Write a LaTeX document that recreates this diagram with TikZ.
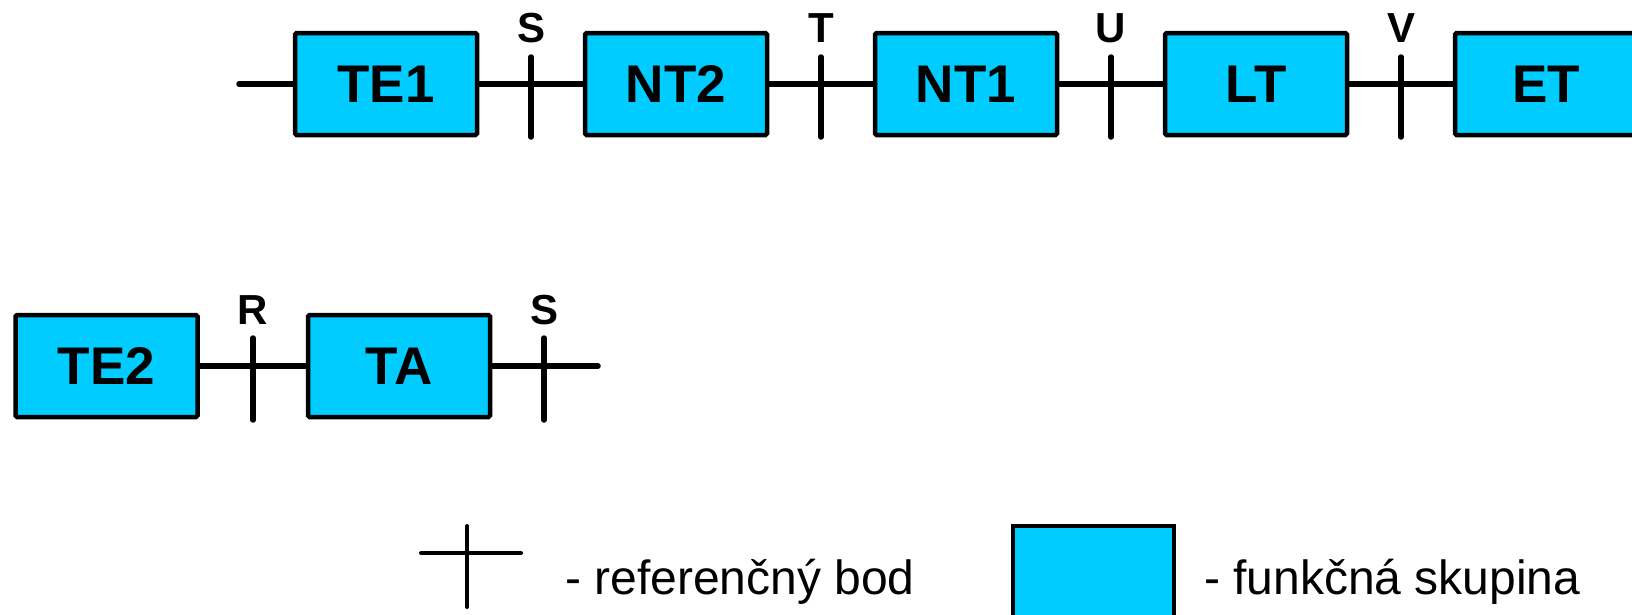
\documentclass[tikz,border=0pt]{standalone}
\usepackage{fontspec}
\setmainfont{Liberation Sans}
\definecolor{fgcyan}{HTML}{00CCFF}
\begin{document}
\begin{tikzpicture}[x=1pt,y=-1pt,
  fgbox/.style={draw=black, fill=fgcyan, line width=4.5pt, rounded corners=1.5pt,
    minimum width=182pt, minimum height=102pt, inner sep=0pt,
    font=\fontsize{53}{62}\selectfont\bfseries},
  wire/.style={line width=5.5pt, line cap=round},
  tick/.style={line width=5.5pt, line cap=round},
  rplabel/.style={font=\fontsize{42}{50}\selectfont\bfseries, inner sep=0pt},
  legtext/.style={font=\fontsize{48}{56}\selectfont, anchor=base west, inner sep=0pt}]
\useasboundingbox (0,0) rectangle (1632,614);
\clip (0,0) rectangle (1632,614);
% top row
\node[fgbox] (te1) at (386,84) {TE1};
\node[fgbox] (nt2) at (676,84) {NT2};
\node[fgbox] (nt1) at (966,84) {NT1};
\node[fgbox] (lt)  at (1256,84) {LT};
\node[fgbox] (et)  at (1546,84) {ET};
\coordinate (stubL) at (239,84);
\draw[wire] (stubL) -- (te1.west);
\draw[wire] (te1.east) -- (nt2.west);
\draw[wire] (nt2.east) -- (nt1.west);
\draw[wire] (nt1.east) -- (lt.west);
\draw[wire] (lt.east) -- (et.west);
\foreach \x/\n/\l in {531/s1/S, 821/t/T, 1111/u/U, 1401/v/V}{
  \coordinate (\n top) at (\x,57);
  \coordinate (\n bot) at (\x,137);
  \draw[tick] (\n top) -- (\n bot);
  \node[rplabel] (\n lab) at (\x,28) {\l};
}
% bottom row
\node[fgbox] (te2) at (106.5,366) {TE2};
\node[fgbox] (ta)  at (399,366) {TA};
\coordinate (stubR) at (598,366);
\draw[wire] (te2.east) -- (ta.west);
\draw[wire] (ta.east) -- (stubR);
\foreach \x/\n/\l in {253/r/R, 544/s2/S}{
  \coordinate (\n top) at (\x,338);
  \coordinate (\n bot) at (\x,420);
  \draw[tick] (\n top) -- (\n bot);
  \node[rplabel] (\n lab) at (\x,310) {\l};
}
% legend
\coordinate (lgL) at (421,553);
\coordinate (lgR) at (521,553);
\coordinate (lgT) at (467,526);
\coordinate (lgB) at (467,607);
\draw[line width=4pt, line cap=round] (lgL) -- (lgR);
\draw[line width=4pt, line cap=round] (lgT) -- (lgB);
\node[legtext] (lg1) at (565,594) {- referenčný bod};
\node[draw=black, fill=fgcyan, line width=4pt, anchor=north west,
  minimum width=161pt, minimum height=130pt, inner sep=0pt] (lgbox) at (1011,524) {};
\node[legtext] (lg2) at (1204,594) {- funkčná skupina};
\end{tikzpicture}
\end{document}
